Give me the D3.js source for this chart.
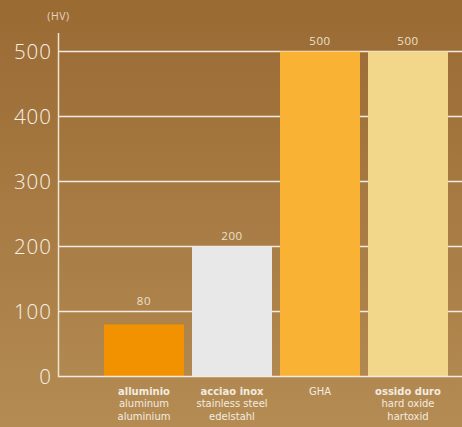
<!DOCTYPE html>
<html><head><meta charset="utf-8">
<script src="https://cdn.jsdelivr.net/npm/d3@7"></script>
<style>html,body{margin:0;padding:0;overflow:hidden;}svg{display:block;}</style>
</head><body>
<script>
const categories = ["alluminio", "acciao inox", "GHA", "ossido duro"];
const values = [80, 200, 500, 500];
const labelLines = [
  ["alluminio", "aluminum", "aluminium"],
  ["acciao inox", "stainless steel", "edelstahl"],
  ["GHA"],
  ["ossido duro", "hard oxide", "hartoxid"]
];
const boldFirst = [true, true, false, true];
const barColors = ["#f39200", "#e8e8e8", "#f9b233", "#f2d78a"];
const yTicks = [0, 100, 200, 300, 400, 500];
const unitLabel = "(HV)";

const W = 462, H = 427;
const svg = d3.select("body").append("svg").attr("width", W).attr("height", H);
const defs = svg.append("defs");
const grad = defs.append("linearGradient").attr("id", "bg").attr("x1", 0).attr("y1", 0).attr("x2", 0).attr("y2", 1);
grad.append("stop").attr("offset", "0%").attr("stop-color", "#9a6a33");
grad.append("stop").attr("offset", "100%").attr("stop-color", "#b48c53");
svg.append("rect").attr("width", W).attr("height", H).attr("fill", "url(#bg)");

const font = "'Open Sans', Lato, sans-serif";
const smallFont = "'DejaVu Sans', 'Open Sans', sans-serif";
const axisX = 58.5;
const y = d3.scaleLinear().domain([0, 500]).range([376.5, 51.5]);
const x = d3.scaleBand().domain(categories).range([100, 452]).paddingInner(8 / 88).paddingOuter(4 / 88);

// gridlines
svg.append("g").selectAll("line").data(yTicks.filter(d => d > 0)).join("line")
  .attr("x1", axisX).attr("x2", W)
  .attr("y1", d => y(d)).attr("y2", d => y(d))
  .attr("stroke", "#f4ece0").attr("stroke-width", 1.3);

// bars
svg.append("g").selectAll("rect").data(values).join("rect")
  .attr("x", (d, i) => x(categories[i]))
  .attr("width", x.bandwidth())
  .attr("y", d => y(d))
  .attr("height", d => y(0) - y(d))
  .attr("fill", (d, i) => barColors[i]);

// baseline & y axis line
svg.append("line").attr("x1", axisX).attr("x2", W).attr("y1", y(0)).attr("y2", y(0))
  .attr("stroke", "#f4ece0").attr("stroke-width", 1.5);
svg.append("line").attr("x1", axisX).attr("x2", axisX).attr("y1", 33).attr("y2", y(0) + 0.75)
  .attr("stroke", "#efe3d2").attr("stroke-width", 1.5);

// y tick labels
svg.append("g").selectAll("text").data(yTicks).join("text")
  .attr("x", 52).attr("y", d => y(d) + 0.5).attr("dy", "0.36em")
  .attr("text-anchor", "end")
  .attr("font-family", font).attr("font-weight", 300).attr("font-size", 20.5)
  .attr("letter-spacing", 1)
  .attr("fill", "#f7f1e8")
  .text(d => d);

svg.append("text").attr("x", 58.5).attr("y", 16.5).attr("dy", "0.35em")
  .attr("text-anchor", "middle").attr("font-family", font).attr("font-size", 10.5)
  .attr("letter-spacing", 0.6)
  .attr("fill", "#e6d6c0").text(unitLabel);

// value labels
svg.append("g").selectAll("text").data(values).join("text")
  .attr("x", (d, i) => x(categories[i]) + x.bandwidth() / 2)
  .attr("y", d => y(Math.max(d, 100)) - 11).attr("dy", "0.35em")
  .attr("text-anchor", "middle").attr("font-family", font).attr("font-size", 11.5)
  .attr("letter-spacing", 0.6)
  .attr("fill", "#ece0ce")
  .text(d => d);

// category labels (one text per line)
labelLines.forEach((lines, i) => {
  const cx = x(categories[i]) + x.bandwidth() / 2;
  svg.append("g").selectAll("text").data(lines).join("text")
    .attr("x", cx).attr("y", (d, j) => 391 + j * 12.8).attr("dy", "0.35em")
    .attr("text-anchor", "middle").attr("font-family", smallFont).attr("font-size", 10)
    .attr("font-weight", (d, j) => j === 0 && boldFirst[i] ? 700 : 400)
    .attr("fill", "#f3ebe0")
    .text(d => d);
});
</script>
</body></html>
